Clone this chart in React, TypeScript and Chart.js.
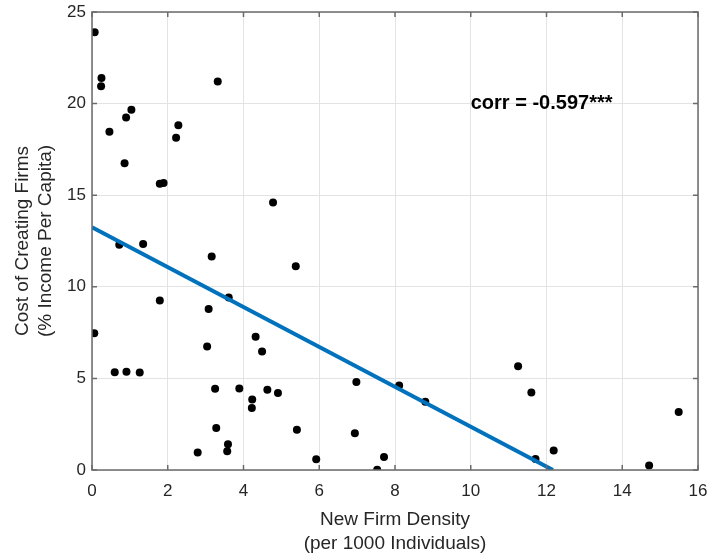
import { useEffect, useRef } from "react";
import { Chart, registerables } from "chart.js";

Chart.register(...registerables);

// new firm density (per 1000 individuals) and cost of creating firms (% income per capita)
const densityValues = [
  0.07, 0.25, 0.24, 3.32, 1.04, 0.9, 0.46, 2.28, 2.22, 0.86, 1.79, 1.89, 4.78, 0.72, 1.35,
  3.16, 5.38, 1.79, 3.61, 3.08, 0.06, 4.32, 3.04, 4.49, 0.6, 0.91, 1.26, 3.25, 3.89, 4.63,
  4.91, 4.23, 4.22, 3.28, 5.41, 3.59, 3.57, 2.79, 5.92,
  11.25, 6.98, 8.11, 11.6, 8.8, 15.49, 6.94, 12.19, 7.71, 11.71, 14.71, 7.53,
];
const costValues = [
  23.9, 21.4, 20.95, 21.2, 19.67, 19.24, 18.47, 18.82, 18.13, 16.75, 15.62, 15.67, 14.6, 12.3, 12.33,
  11.65, 11.12, 9.25, 9.41, 8.79, 7.47, 7.28, 6.74, 6.47, 5.34, 5.36, 5.32, 4.43, 4.45, 4.38,
  4.2, 3.85, 3.38, 2.29, 2.2, 1.4, 1.02, 0.96, 0.58,
  5.67, 4.8, 4.61, 4.23, 3.72, 3.16, 2.0, 1.07, 0.71, 0.6, 0.25, 0.02,
];

// fitted line end points
const fitX = [0, 12.17];
const fitY = [13.25, 0];

const xTicks = [0, 2, 4, 6, 8, 10, 12, 14, 16];
const yTicks = [0, 5, 10, 15, 20, 25];

const corrLabel = "corr = -0.597***";
const corrPos = [10, 20];

const FONT = "'Liberation Sans', Arial, Helvetica, sans-serif";
const axisColor = "#6b6b6b";
const textColor = "#262626";

const boxPlugin = {
  id: "matlabBox",
  afterDatasetsDraw(chart: any) {
    const { ctx, chartArea: a, scales } = chart;
    const xs = scales.x;
    const ys = scales.y;
    ctx.save();
    ctx.font = `bold 20px ${FONT}`;
    ctx.fillStyle = "#000";
    ctx.textBaseline = "middle";
    ctx.textAlign = "left";
    ctx.fillText(corrLabel, xs.getPixelForValue(corrPos[0]), ys.getPixelForValue(corrPos[1]));

    ctx.strokeStyle = axisColor;
    ctx.lineWidth = 1.5;
    ctx.strokeRect(a.left, a.top, a.right - a.left, a.bottom - a.top);
    ctx.beginPath();
    xTicks.forEach((v) => {
      const px = xs.getPixelForValue(v);
      ctx.moveTo(px, a.bottom);
      ctx.lineTo(px, a.bottom - 5);
      ctx.moveTo(px, a.top);
      ctx.lineTo(px, a.top + 5);
    });
    yTicks.forEach((v) => {
      const py = ys.getPixelForValue(v);
      ctx.moveTo(a.left, py);
      ctx.lineTo(a.left + 5, py);
      ctx.moveTo(a.right, py);
      ctx.lineTo(a.right - 5, py);
    });
    ctx.stroke();
    ctx.restore();
  },
};

export default function App() {
  const canvasRef = useRef<HTMLCanvasElement | null>(null);

  useEffect(() => {
    document.body.style.margin = "0";
    document.body.style.overflow = "hidden";
    if (!canvasRef.current) return;

    const chart = new Chart(canvasRef.current, {
      type: "scatter",
      data: {
        datasets: [
          {
            type: "line",
            data: fitX.map((x, i) => ({ x, y: fitY[i] })),
            borderColor: "#0072BD",
            borderWidth: 4,
            pointRadius: 0,
            order: 0,
          },
          {
            data: densityValues.map((x, i) => ({ x, y: costValues[i] })),
            backgroundColor: "#000",
            borderColor: "#000",
            pointRadius: 4,
            borderWidth: 0,
            order: 1,
          },
        ],
      },
      options: {
        animation: false,
        responsive: true,
        maintainAspectRatio: false,
        layout: { padding: { top: 12, right: 22, left: 0, bottom: 0 } },
        plugins: {
          legend: { display: false },
          tooltip: { enabled: false },
        },
        scales: {
          x: {
            type: "linear",
            min: 0,
            max: 16,
            afterFit: (s: any) => {
              s.height = 89;
            },
            afterBuildTicks: (s: any) => {
              s.ticks = xTicks.map((value) => ({ value }));
            },
            ticks: {
              color: textColor,
              font: { family: FONT, size: 17 },
              padding: 11,
              maxRotation: 0,
            },
            grid: { color: "#e3e3e3", drawTicks: false },
            border: { display: false },
            title: {
              display: true,
              text: ["New Firm Density", "(per 1000 Individuals)"],
              color: textColor,
              font: { family: FONT, size: 19, lineHeight: "24px" },
              padding: { top: 0, bottom: 3 },
            },
          },
          y: {
            type: "linear",
            min: 0,
            max: 25,
            afterFit: (s: any) => {
              s.width = 92;
              s.paddingTop = 0;
              s.paddingBottom = 0;
            },
            afterBuildTicks: (s: any) => {
              s.ticks = yTicks.map((value) => ({ value }));
            },
            ticks: {
              color: textColor,
              font: { family: FONT, size: 17 },
              padding: 6,
            },
            grid: { color: "#e3e3e3", drawTicks: false },
            border: { display: false },
            title: {
              display: true,
              text: ["Cost of Creating Firms", "(% Income Per Capita)"],
              color: textColor,
              font: { family: FONT, size: 19, lineHeight: "23px" },
              padding: { top: 11, bottom: 0 },
            },
          },
        },
      },
      plugins: [boxPlugin],
    });

    return () => chart.destroy();
  }, []);

  return (
    <div style={{ width: 720, height: 559, position: "relative" }}>
      <canvas ref={canvasRef} />
    </div>
  );
}
